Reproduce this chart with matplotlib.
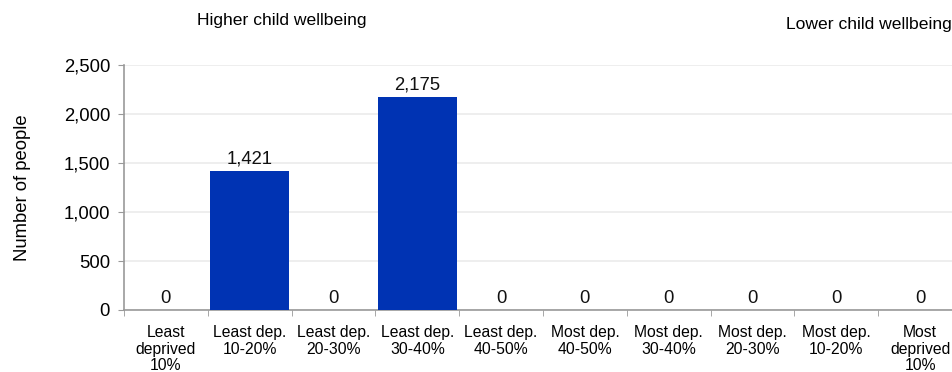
import matplotlib.pyplot as plt
import numpy as np

categories = ['Least\ndeprived\n10%', 'Least dep.\n10-20%', 'Least dep.\n20-30%', 'Least dep.\n30-40%',
              'Least dep.\n40-50%', 'Most dep.\n40-50%', 'Most dep.\n30-40%', 'Most dep.\n20-30%',
              'Most dep.\n10-20%', 'Most\ndeprived\n10%']
people = [0, 1421, 0, 2175, 0, 0, 0, 0, 0, 0]
yticks = [0, 500, 1000, 1500, 2000, 2500]

plt.rcParams['font.family'] = ['Liberation Sans', 'DejaVu Sans']

fig = plt.figure(figsize=(9.52, 3.72), dpi=100)
ax = fig.add_axes([124 / 952, 1 - 310 / 372, 838 / 952, 245 / 372])

x = np.arange(len(categories))
ax.bar(x, people, width=0.94, color='#0033b3', zorder=3)
for xi, v in zip(x, people):
    ax.text(xi, v + 35, f'{v:,}', ha='center', va='bottom', fontsize=13.3, color='#111111')

ax.set_xlim(-0.5, len(categories) - 0.5)
ax.set_ylim(0, 2500)
ax.set_yticks(yticks)
ax.set_yticklabels([f'{t:,}' for t in yticks], fontsize=13.3)
ax.yaxis.grid(True, color='#ebebeb', linewidth=1.2, zorder=0)

ax.set_xticks(x)
ax.set_xticklabels(categories, fontsize=11.3, linespacing=1.12)
ax.tick_params(axis='x', length=0, pad=11)
ax.set_xticks(np.arange(-0.5, len(categories), 1), minor=True)
ax.tick_params(axis='x', which='minor', length=4, color='#999999')
ax.tick_params(axis='y', length=4, color='#999999', pad=6)

for s in ['top', 'right']:
    ax.spines[s].set_visible(False)
ax.spines['left'].set_color('#999999')
ax.spines['bottom'].set_color('#999999')
ax.spines['left'].set_linewidth(1.2)
ax.spines['bottom'].set_linewidth(1.2)

ax.set_ylabel('Number of people', fontsize=13.3)
ax.yaxis.set_label_coords(-0.111, 0.5)

fig.text(282 / 952, 1 - 20 / 372, 'Higher child wellbeing', ha='center', va='center', fontsize=12.6)
fig.text(786 / 952, 1 - 25 / 372, 'Lower child wellbeing', ha='left', va='center', fontsize=12.6)

fig.savefig('out.png', dpi=100)
